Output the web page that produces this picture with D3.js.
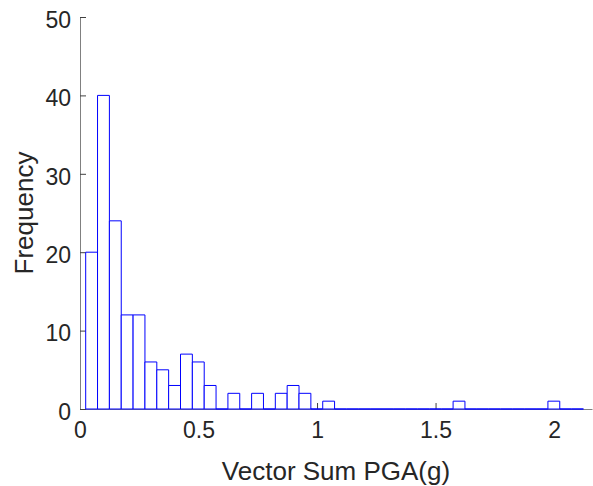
<!DOCTYPE html>
<html>
<head>
<meta charset="utf-8">
<script src="https://cdn.jsdelivr.net/npm/d3@7"></script>
<style>
  body { margin: 0; background: #fff; }
  text { font-family: "Liberation Sans", Arial, sans-serif; fill: #262626; }
</style>
</head>
<body>
<script>
// histogram bin edges (g) and counts
var binEdges = [0.024, 0.074, 0.124, 0.174, 0.224, 0.274, 0.324, 0.374, 0.424, 0.474,
    0.524, 0.574, 0.624, 0.674, 0.724, 0.774, 0.824, 0.874, 0.924, 0.974,
    1.024, 1.074, 1.124, 1.174, 1.224, 1.274, 1.324, 1.374, 1.424, 1.474,
    1.524, 1.574, 1.624, 1.674, 1.724, 1.774, 1.824, 1.874, 1.924, 1.974,
    2.024, 2.074, 2.124];
var counts = [20, 40, 24, 12, 12, 6, 5, 3, 7, 6,
    3, 0, 2, 0, 2, 0, 2, 3, 2, 0,
    1, 0, 0, 0, 0, 0, 0, 0, 0, 0,
    0, 1, 0, 0, 0, 0, 0, 0, 0, 1,
    0, 0];
var xTicks = [0, 0.5, 1, 1.5, 2];
var yTicks = [0, 10, 20, 30, 40, 50];

var w = 593;
var h = 486;
var plotLeft = 80, plotRight = 592, plotTop = 17, plotBottom = 409;

var svg = d3.select("body")
    .append("svg")
    .attr("width", w)
    .attr("height", h);

var x = d3.scaleLinear().domain([0, 2.16]).range([plotLeft, plotRight]);
var y = d3.scaleLinear().domain([0, 50]).range([plotBottom, plotTop]);

var bins = counts.map((c, i) => { return { x0: binEdges[i], x1: binEdges[i + 1], n: c }; });

// axes (MATLAB style, ticks pointing inward)
var xAxis = d3.axisBottom(x).tickValues(xTicks).tickSizeInner(-6).tickSizeOuter(0)
    .tickFormat(d3.format("~g"));
var yAxis = d3.axisLeft(y).tickValues(yTicks).tickSizeInner(-6).tickSizeOuter(0);

var gx = svg.append("g").attr("transform", "translate(0," + plotBottom + ")").call(xAxis);
var gy = svg.append("g").attr("transform", "translate(" + plotLeft + ",0)").call(yAxis);

[gx, gy].forEach((g) => {
    g.select(".domain").attr("stroke", "#808080").attr("stroke-width", 1);
    g.selectAll(".tick line").attr("stroke", "#404040").attr("stroke-width", 1);
    g.selectAll(".tick text")
        .style("font-family", "'Liberation Sans', Arial, sans-serif")
        .style("font-size", "23px")
        .attr("fill", "#262626");
});
gx.selectAll(".tick text").attr("dy", "0.71em").attr("y", 13);
gy.selectAll(".tick text").attr("dy", "0.45em").attr("x", -9);

// bars as closed outlines so empty bins still show on the baseline
svg.append("g")
    .selectAll("path")
    .data(bins)
    .enter()
    .append("path")
    .attr("d", (d) => {
        return "M" + x(d.x0) + "," + y(0) + "V" + y(d.n) + "H" + x(d.x1) + "V" + y(0) + "Z";
    })
    .style("fill", "#ffffff")
    .style("stroke", "#0000ff")
    .style("stroke-width", 1);

// labels
svg.append("text")
    .attr("x", (plotLeft + plotRight) / 2)
    .attr("y", 480)
    .attr("text-anchor", "middle")
    .style("font-size", "26px")
    .text("Vector Sum PGA(g)");

svg.append("text")
    .attr("transform", "translate(33," + ((plotTop + plotBottom) / 2) + ") rotate(-90)")
    .attr("text-anchor", "middle")
    .style("font-size", "26px")
    .text("Frequency");
</script>
</body>
</html>
